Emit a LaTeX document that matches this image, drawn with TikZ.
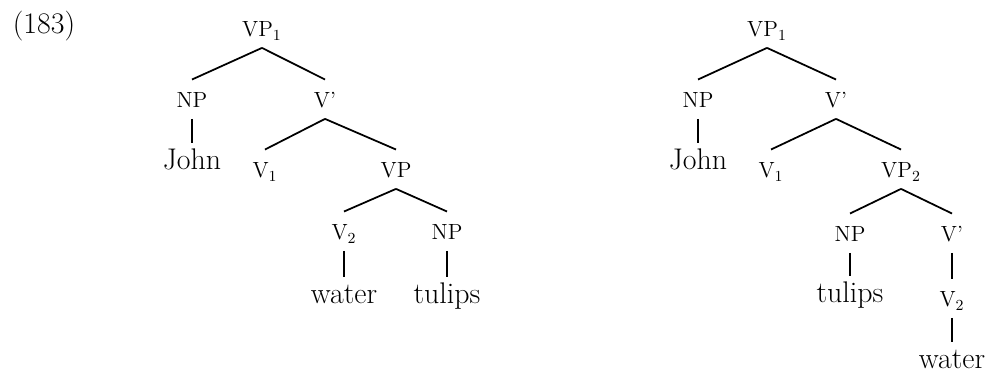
\documentclass[tikz,border=0pt]{standalone}
\usepackage{fontspec}
\usepackage{tikz}

\tikzset{
  cat/.style={anchor=base, inner sep=0pt, text height=16pt, text depth=6pt,
    font=\fontsize{12.5}{14}\selectfont},
  word/.style={anchor=base, inner sep=0pt, text height=15pt, text depth=4pt,
    font=\fontsize{17}{20}\selectfont},
  branch/.style={line width=1pt}
}

\begin{document}
\begin{tikzpicture}
\useasboundingbox (0,0) rectangle (19.780,7.460);
\node[anchor=base, font=\fontsize{17}{20}\selectfont] (ex) at (0.880,6.780) {(183)};
\begin{scope}[shift={(0.000,0.000)}]
\node[cat] (lvp) at (5.240,6.720) {VP\textsubscript{1}};
\node[cat] (lnp) at (3.840,5.300) {NP};
\node[cat] (lvbar) at (6.500,5.300) {V'};
\node[word] (ljohn) at (3.840,4.060) {John};
\node[cat] (lva) at (5.300,3.900) {V\textsubscript{1}};
\node[cat] (lvpb) at (7.920,3.900) {VP};
\node[cat] (lvb) at (6.880,2.660) {V\textsubscript{2}};
\node[cat] (lnpb) at (8.940,2.660) {NP};
\node[word] (lwater) at (6.880,1.380) {water};
\node[word] (ltulips) at (8.940,1.380) {tulips};
\draw[branch] (lvp.south) -- (lnp.north);
\draw[branch] (lvp.south) -- (lvbar.north);
\draw[branch] (lnp.south) -- (ljohn.north);
\draw[branch] (lvbar.south) -- (lva.north);
\draw[branch] (lvbar.south) -- (lvpb.north);
\draw[branch] (lvpb.south) -- (lvb.north);
\draw[branch] (lvpb.south) -- (lnpb.north);
\draw[branch] (lvb.south) -- (lwater.north);
\draw[branch] (lnpb.south) -- (ltulips.north);
\end{scope}
\begin{scope}[shift={(10.100,0.000)}]
\node[cat] (rvp) at (5.240,6.720) {VP\textsubscript{1}};
\node[cat] (rnp) at (3.860,5.300) {NP};
\node[cat] (rvbar) at (6.620,5.300) {V'};
\node[word] (rjohn) at (3.860,4.060) {John};
\node[cat] (rva) at (5.320,3.900) {V\textsubscript{1}};
\node[cat] (rvpb) at (7.920,3.900) {VP\textsubscript{2}};
\node[cat] (rnpb) at (6.900,2.620) {NP};
\node[cat] (rvbarb) at (8.940,2.620) {V'};
\node[word] (rtulips) at (6.900,1.400) {tulips};
\node[cat] (rvb) at (8.940,1.320) {V\textsubscript{2}};
\node[word] (rwater) at (8.940,0.080) {water};
\draw[branch] (rvp.south) -- (rnp.north);
\draw[branch] (rvp.south) -- (rvbar.north);
\draw[branch] (rnp.south) -- (rjohn.north);
\draw[branch] (rvbar.south) -- (rva.north);
\draw[branch] (rvbar.south) -- (rvpb.north);
\draw[branch] (rvpb.south) -- (rnpb.north);
\draw[branch] (rvpb.south) -- (rvbarb.north);
\draw[branch] (rnpb.south) -- (rtulips.north);
\draw[branch] (rvbarb.south) -- (rvb.north);
\draw[branch] (rvb.south) -- (rwater.north);
\end{scope}
\end{tikzpicture}
\end{document}
